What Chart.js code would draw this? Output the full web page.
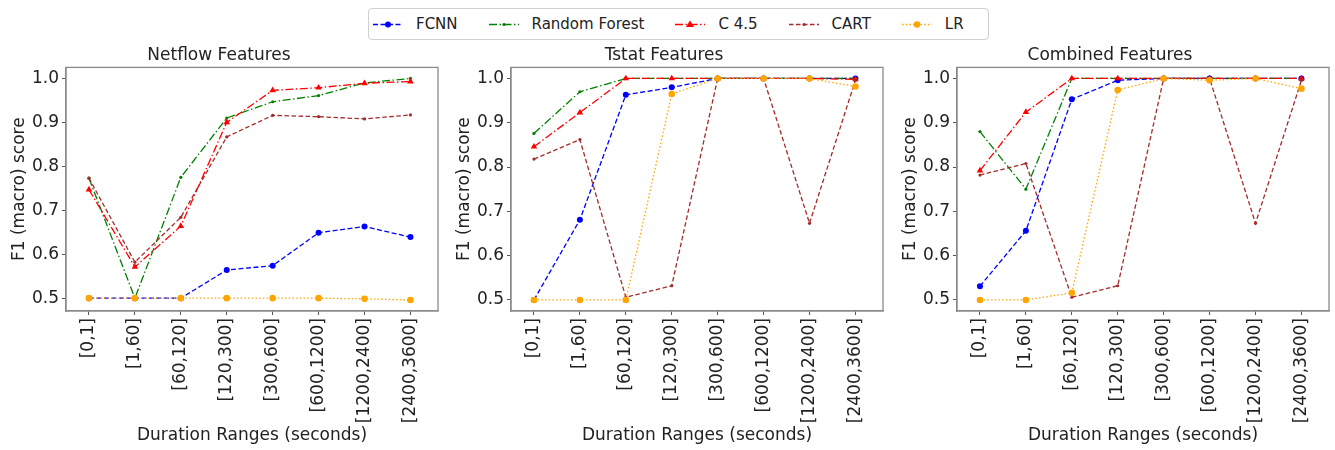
<!DOCTYPE html>
<html>
<head>
<meta charset="utf-8">
<script src="https://cdn.jsdelivr.net/npm/chart.js@4.4.1/dist/chart.umd.min.js"></script>
<style>
  body { margin: 0; background: #fff; width: 1335px; height: 450px; overflow: hidden; position: relative; font-family: "DejaVu Sans", sans-serif; }
  .panel { position: absolute; top: 38px; width: 444px; height: 412px; }
  #legend { position: absolute; left: 368px; top: 8px; height: 30px; border: 1px solid #d0d0d0; border-radius: 4px;
            display: flex; align-items: center; padding: 0 24px 0 4px; font-size: 15px; color: #222; }
  .item { display: flex; align-items: center; margin-right: 31px; }
  .item:last-child { margin-right: 0; }
  .item svg { margin-right: 13px; }
</style>
</head>
<body>
<div id="legend"></div>
<div class="panel" style="left:0px"><canvas id="c0" width="444" height="412"></canvas></div>
<div class="panel" style="left:445px"><canvas id="c1" width="444" height="412"></canvas></div>
<div class="panel" style="left:891px"><canvas id="c2" width="444" height="412"></canvas></div>
<script>
// x categories
const durationRanges = ["[0,1]", "[1,60]", "[60,120]", "[120,300]", "[300,600]", "[600,1200]", "[1200,2400]", "[2400,3600]"];
const yTicks = [0.5, 0.6, 0.7, 0.8, 0.9, 1.0];

// Netflow Features
const netflowFCNN = [0.5, 0.5, 0.5, 0.564, 0.574, 0.649, 0.663, 0.639];
const netflowRF   = [0.773, 0.5, 0.775, 0.91, 0.947, 0.961, 0.99, 1.0];
const netflowC45  = [0.747, 0.571, 0.664, 0.90, 0.973, 0.979, 0.989, 0.993];
const netflowCART = [0.773, 0.582, 0.684, 0.867, 0.916, 0.913, 0.908, 0.917];
const netflowLR   = [0.5, 0.5, 0.5, 0.5, 0.5, 0.5, 0.4985, 0.496];

// Tstat Features
const tstatFCNN = [0.5, 0.681, 0.963, 0.98, 1.0, 1.0, 1.0, 1.0];
const tstatRF   = [0.876, 0.97, 1.0, 1.0, 1.0, 1.0, 1.0, 1.0];
const tstatC45  = [0.846, 0.923, 1.0, 1.0, 1.0, 1.0, 1.0, 0.998];
const tstatCART = [0.818, 0.862, 0.506, 0.532, 1.0, 1.0, 0.673, 0.996];
const tstatLR   = [0.5, 0.5, 0.5, 0.965, 1.0, 1.0, 1.0, 0.982];

// Combined Features
const combinedFCNN = [0.531, 0.656, 0.953, 0.996, 1.0, 1.0, 1.0, 1.0];
const combinedRF   = [0.88, 0.75, 1.0, 1.0, 1.0, 1.0, 1.0, 1.0];
const combinedC45  = [0.792, 0.924, 1.0, 1.0, 1.0, 1.0, 1.0, 1.0];
const combinedCART = [0.782, 0.808, 0.506, 0.532, 1.0, 1.0, 0.673, 0.996];
const combinedLR   = [0.5, 0.5, 0.516, 0.974, 1.0, 0.996, 1.0, 0.977];

const models = [
  {name: "FCNN",          color: "#0000ff", dash: [5, 2.5],          marker: "circle",   r: 3,   order: 5},
  {name: "Random Forest", color: "#008000", dash: [8, 2.5, 1.5, 2.5], marker: "circle",   r: 1.6, order: 4},
  {name: "C 4.5",         color: "#ff0000", dash: [8, 2.5, 1.5, 2.5], marker: "triangle", r: 3.8, order: 3},
  {name: "CART",          color: "#a52a2a", dash: [4.5, 2.5],        marker: "circle",   r: 1.6, order: 2},
  {name: "LR",            color: "#ffa500", dash: [1.5, 2.2],        marker: "circle",   r: 3.3, order: 1}
];

const panels = [
  {id: "c0", title: "Netflow Features",  min: 0.4708, max: 1.0252, series: [netflowFCNN, netflowRF, netflowC45, netflowCART, netflowLR]},
  {id: "c1", title: "Tstat Features",    min: 0.475,  max: 1.025,  series: [tstatFCNN, tstatRF, tstatC45, tstatCART, tstatLR]},
  {id: "c2", title: "Combined Features", min: 0.475,  max: 1.025,  series: [combinedFCNN, combinedRF, combinedC45, combinedCART, combinedLR]}
];

const font17 = {family: "'DejaVu Sans', sans-serif", size: 17, weight: "normal"};
const textColor = "#222";

// matplotlib-like box around the axes
const frame = {
  id: "frame",
  afterDraw(chart) {
    const a = chart.chartArea, ctx = chart.ctx;
    ctx.save();
    ctx.strokeStyle = "#8a8a8a";
    ctx.lineWidth = 1.3;
    ctx.strokeRect(a.left, a.top, a.right - a.left, a.bottom - a.top);
    ctx.restore();
  }
};

panels.forEach(p => {
  new Chart(document.getElementById(p.id), {
    type: "line",
    data: {
      datasets: models.map((m, i) => ({
        label: m.name,
        data: p.series[i].map((v, k) => ({x: k, y: v})),
        borderColor: m.color,
        backgroundColor: m.color,
        borderWidth: 1.3,
        borderDash: m.dash,
        pointStyle: m.marker,
        pointRadius: m.r,
        pointBorderWidth: 0,
        fill: false,
        tension: 0,
        order: m.order
      }))
    },
    options: {
      responsive: false,
      animation: false,
      devicePixelRatio: 1,
      layout: {padding: {left: 0, right: 6, top: 0, bottom: 0}},
      plugins: {
        legend: {display: false},
        tooltip: {enabled: false},
        title: {display: true, text: p.title, font: font17, color: textColor, padding: {top: 7, bottom: 2}}
      },
      scales: {
        x: {
          type: "linear",
          min: -0.5,
          max: 7.6,
          afterBuildTicks: s => { s.ticks = durationRanges.map((_, k) => ({value: k})); },
          afterFit: s => { s.height = 139; },
          grid: {drawOnChartArea: false, drawTicks: true, tickLength: 4, color: "#555"},
          border: {display: true, color: "#8a8a8a", width: 1.3},
          ticks: {
            autoSkip: false, minRotation: 90, maxRotation: 90, padding: 3,
            font: font17, color: textColor,
            callback: v => durationRanges[v]
          },
          title: {display: true, text: "Duration Ranges (seconds)", font: font17, color: textColor, padding: {top: 4, bottom: 4}}
        },
        y: {
          min: p.min,
          max: p.max,
          afterBuildTicks: s => { s.ticks = yTicks.map(v => ({value: v})); },
          afterFit: s => { s.width = 66; },
          grid: {drawOnChartArea: false, drawTicks: true, tickLength: 4, color: "#555"},
          border: {display: true, color: "#8a8a8a", width: 1.3},
          ticks: {padding: 3, font: font17, color: textColor, callback: v => v.toFixed(1)},
          title: {display: true, text: "F1 (macro) score", font: font17, color: textColor, padding: {top: 9, bottom: 0}}
        }
      }
    },
    plugins: [frame]
  });
});

// shared legend above the panels
const legend = document.getElementById("legend");
models.forEach(m => {
  const item = document.createElement("div");
  item.className = "item";
  const dash = m.dash.join(" ");
  let mark;
  if (m.marker === "triangle") {
    mark = `<polygon points="15,1.5 19,8 11,8" fill="${m.color}"/>`;
  } else {
    mark = `<circle cx="15" cy="5.5" r="${m.r}" fill="${m.color}"/>`;
  }
  item.innerHTML = `<svg width="30" height="11"><line x1="0" y1="5.5" x2="30" y2="5.5" stroke="${m.color}" stroke-width="1.3" stroke-dasharray="${dash}"/>${mark}</svg><span>${m.name}</span>`;
  legend.appendChild(item);
});
</script>
</body>
</html>
